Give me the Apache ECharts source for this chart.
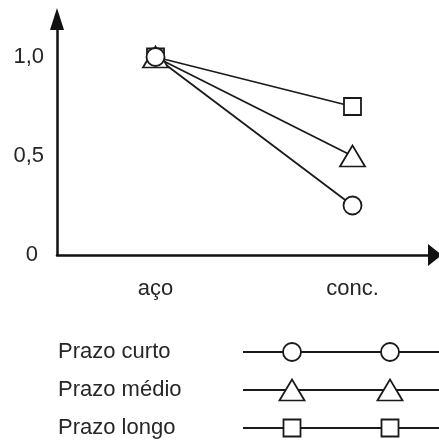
<!DOCTYPE html>
<html>
<head>
<meta charset="utf-8">
<script src="https://cdn.jsdelivr.net/npm/echarts@6/dist/echarts.min.js"></script>
<style>html,body{margin:0;padding:0;background:#fff}#c{width:439px;height:441px}</style>
</head>
<body>
<div id="c"></div>
<script>
const categories = ['aço', 'conc.'];
const seriesNames = ['Prazo curto', 'Prazo médio', 'Prazo longo'];
const curto = [1.0, 0.25];
const medio = [1.0, 0.5];
const longo = [1.0, 0.75];
const yTicks = [0, 0.5, 1.0];
const legendKeyX = [0, 1, 3, 4];
const legendMarkerX = [1, 3];

const INK = '#1a1a1a';
const TXT = '#262626';
const FONT = 'Liberation Sans, Arial, sans-serif';
const FS = 22;

const styles = {
  'Prazo curto': { symbol: 'circle', size: 18 },
  'Prazo médio': { symbol: 'triangle', size: [25, 21] },
  'Prazo longo': { symbol: 'rect', size: 17 }
};
const valuesByName = { 'Prazo curto': curto, 'Prazo médio': medio, 'Prazo longo': longo };
const markerItem = { color: '#ffffff', opacity: 1, borderColor: INK, borderWidth: 1.8 };

function mainData(name) {
  return categories.map((c, i) => [i + 0.5, valuesByName[name][i]]);
}
function mainLine(name) {
  return {
    type: 'line', name: name, xAxisIndex: 0, yAxisIndex: 0,
    data: mainData(name), showSymbol: false, symbol: 'none',
    lineStyle: { color: INK, width: 1.8 }, z: 2
  };
}
function mainMarkers(name, z) {
  const st = styles[name];
  return {
    type: 'scatter', name: name, xAxisIndex: 0, yAxisIndex: 0,
    data: mainData(name), symbol: st.symbol, symbolSize: st.size,
    itemStyle: markerItem, z: z
  };
}
function legendLine(name) {
  return {
    type: 'line', name: name + ' (chave)', xAxisIndex: 1, yAxisIndex: 1,
    data: legendKeyX.map(x => [x, name]), showSymbol: false, symbol: 'none',
    lineStyle: { color: INK, width: 1.8 }, z: 2
  };
}
function legendMarkers(name) {
  const st = styles[name];
  return {
    type: 'scatter', name: name + ' (chave)', xAxisIndex: 1, yAxisIndex: 1,
    data: legendMarkerX.map(x => [x, name]), symbol: st.symbol, symbolSize: st.size,
    itemStyle: markerItem, z: 5
  };
}

const chart = echarts.init(document.getElementById('c'), null, { renderer: 'canvas' });
chart.setOption({
  animation: false,
  backgroundColor: '#fff',
  textStyle: { fontFamily: FONT },
  grid: [
    { left: 57, right: 4, top: 19, bottom: 186 },
    { left: 243, right: 0, top: 352, bottom: 13 }
  ],
  xAxis: [
    {
      type: 'value', gridIndex: 0, min: 0, max: (435 - 57) / 197, interval: 0.5,
      axisLine: { show: true, symbol: ['none', 'triangle'], symbolSize: [22, 14],
        lineStyle: { color: '#111', width: 2.5 } },
      axisTick: { show: false }, splitLine: { show: false },
      axisLabel: {
        margin: 23, fontSize: FS, color: TXT, fontFamily: FONT,
        showMaxLabel: false,
        formatter: function (v) {
          const i = Math.round(v - 0.5);
          return Math.abs(v - (i + 0.5)) < 1e-6 && categories[i] ? categories[i] : '';
        }
      }
    },
    {
      type: 'value', gridIndex: 1, min: 0, max: 4, show: false
    }
  ],
  yAxis: [
    {
      type: 'value', gridIndex: 0, min: 0, max: (255 - 19) / 198, interval: 0.5,
      axisLine: { show: true, symbol: ['none', 'triangle'], symbolSize: [14, 22],
        lineStyle: { color: '#111', width: 2.5 } },
      axisTick: { show: false }, splitLine: { show: false },
      axisLabel: {
        margin: 13, fontSize: FS, color: TXT, fontFamily: FONT,
        showMaxLabel: false,
        formatter: function (v) {
          if (!yTicks.some(t => Math.abs(t - v) < 1e-6)) return '';
          if (v === 0) return '{z|0}';
          return v.toFixed(1).replace('.', ',');
        },
        rich: { z: { fontSize: FS, color: TXT, fontFamily: FONT, padding: [0, 6, 0, 0] } }
      }
    },
    {
      type: 'category', gridIndex: 1, data: seriesNames, inverse: true, boundaryGap: false,
      axisLine: { show: false }, axisTick: { show: false }, splitLine: { show: false },
      axisLabel: { align: 'left', margin: 185, fontSize: FS, color: TXT, fontFamily: FONT }
    }
  ],
  series: [
    mainLine('Prazo longo'),
    mainLine('Prazo médio'),
    mainLine('Prazo curto'),
    mainMarkers('Prazo longo', 4),
    mainMarkers('Prazo médio', 5),
    mainMarkers('Prazo curto', 6),
    legendLine('Prazo curto'),
    legendLine('Prazo médio'),
    legendLine('Prazo longo'),
    legendMarkers('Prazo curto'),
    legendMarkers('Prazo médio'),
    legendMarkers('Prazo longo')
  ]
});
</script>
</body>
</html>
